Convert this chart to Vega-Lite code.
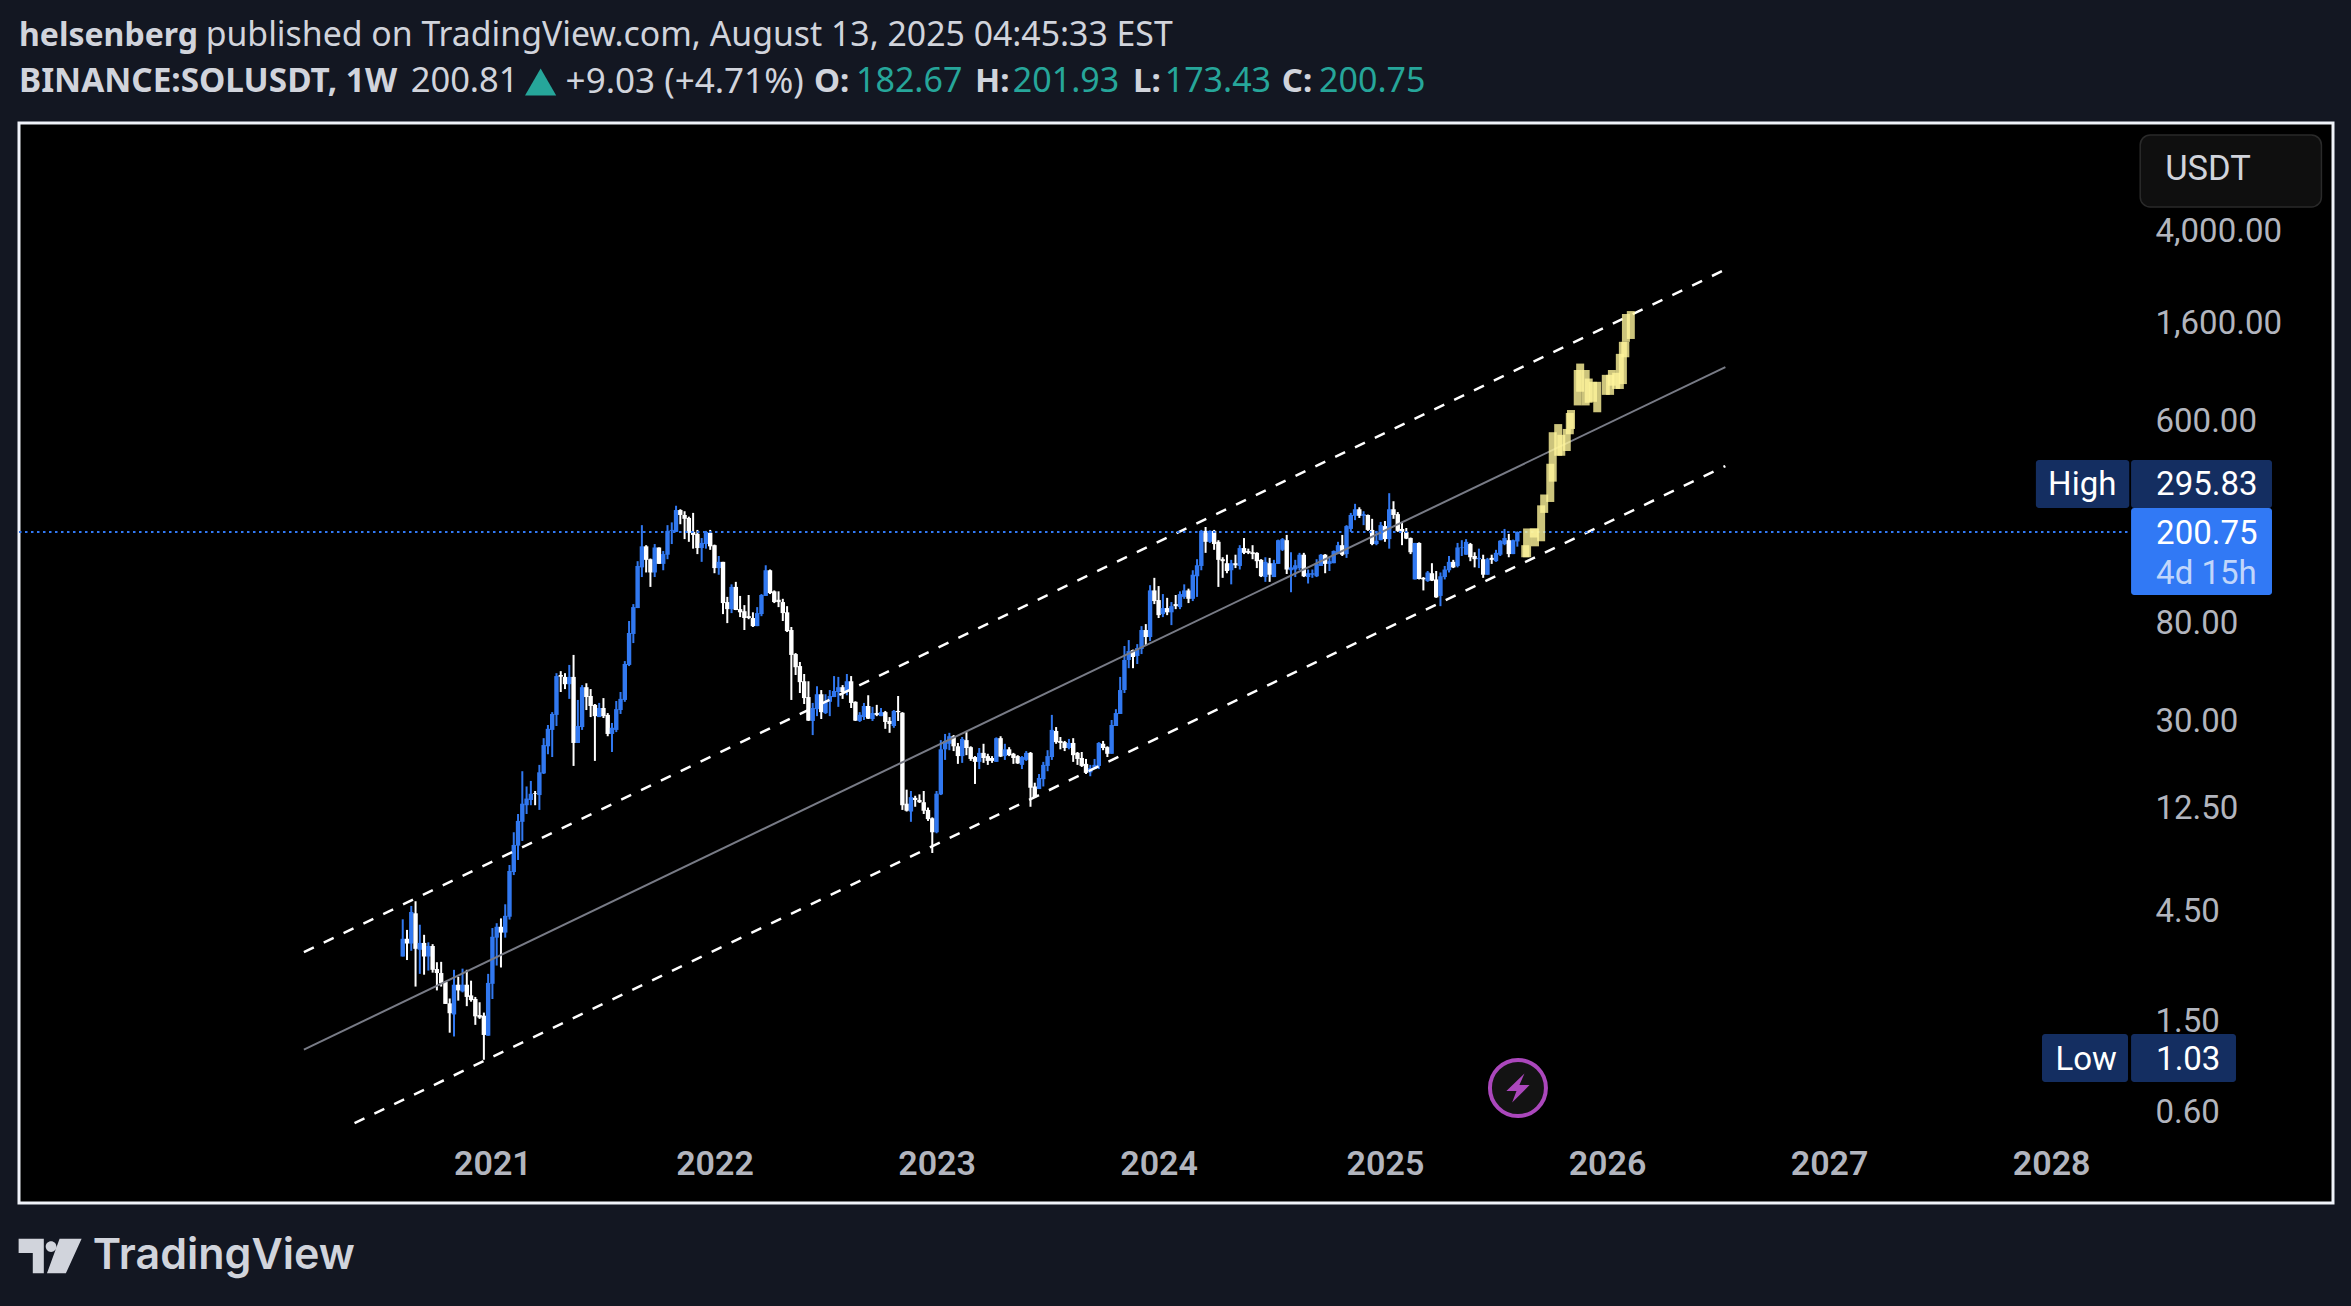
{"$schema":"https://vega.github.io/schema/vega-lite/v6.json","width":2314,"height":1080,"autosize":{"type":"none"},"padding":{"left":19,"top":123,"right":18,"bottom":103},"background":"#131722","view":{"fill":"#000000","stroke":"#f0f3fa","strokeWidth":3},"data":{"values":[{}]},
"datasets":{"candles":[
{"d":"2020-08-10","o":2.89,"h":4.19,"l":2.89,"c":3.45},{"d":"2020-08-17","o":3.45,"h":3.77,"l":2.79,"c":3.29},{"d":"2020-08-24","o":3.29,"h":4.79,"l":3.06,"c":4.51},{"d":"2020-08-31","o":4.45,"h":5.02,"l":2.14,"c":3.12},{"d":"2020-09-07","o":3.09,"h":3.97,"l":2.43,"c":3.31},{"d":"2020-09-14","o":3.31,"h":3.59,"l":2.41,"c":2.89},{"d":"2020-09-21","o":2.89,"h":3.33,"l":2.51,"c":3.21},{"d":"2020-09-28","o":3.21,"h":3.27,"l":2.46,"c":2.53},{"d":"2020-10-05","o":2.55,"h":2.73,"l":2.06,"c":2.45},{"d":"2020-10-12","o":2.45,"h":2.74,"l":2.14,"c":2.21},{"d":"2020-10-19","o":2.24,"h":2.25,"l":1.80,"c":1.80},{"d":"2020-10-26","o":1.81,"h":1.90,"l":1.35,"c":1.64},{"d":"2020-11-02","o":1.62,"h":2.53,"l":1.30,"c":2.18},{"d":"2020-11-09","o":2.18,"h":2.36,"l":1.86,"c":2.06},{"d":"2020-11-16","o":2.04,"h":2.56,"l":2.02,"c":2.18},{"d":"2020-11-23","o":2.18,"h":2.53,"l":1.76,"c":1.93},{"d":"2020-11-30","o":1.96,"h":2.27,"l":1.84,"c":1.87},{"d":"2020-12-07","o":1.89,"h":1.93,"l":1.46,"c":1.59},{"d":"2020-12-14","o":1.61,"h":1.83,"l":1.55,"c":1.57},{"d":"2020-12-21","o":1.60,"h":1.65,"l":1.03,"c":1.32},{"d":"2020-12-28","o":1.31,"h":2.43,"l":1.31,"c":2.22},
{"d":"2021-01-04","o":2.20,"h":3.84,"l":1.89,"c":3.52},{"d":"2021-01-11","o":3.49,"h":4.03,"l":2.64,"c":3.89},{"d":"2021-01-18","o":3.89,"h":4.23,"l":2.59,"c":3.67},{"d":"2021-01-25","o":3.67,"h":4.87,"l":3.49,"c":4.34},{"d":"2021-02-01","o":4.30,"h":7.21,"l":4.18,"c":6.79},{"d":"2021-02-08","o":6.72,"h":10.0,"l":6.52,"c":8.81},{"d":"2021-02-15","o":8.75,"h":12.0,"l":7.58,"c":11.2},{"d":"2021-02-22","o":11.1,"h":18.4,"l":9.17,"c":13.3},{"d":"2021-03-01","o":13.1,"h":15.8,"l":12.0,"c":14.0},{"d":"2021-03-08","o":13.8,"h":16.7,"l":13.1,"c":14.7},{"d":"2021-03-15","o":14.8,"h":15.1,"l":13.1,"c":14.7},{"d":"2021-03-22","o":14.5,"h":19.6,"l":12.5,"c":18.2},{"d":"2021-03-29","o":18.0,"h":25.6,"l":17.9,"c":23.9},{"d":"2021-04-05","o":23.6,"h":29.2,"l":21.8,"c":28.1},{"d":"2021-04-12","o":27.8,"h":33.2,"l":21.2,"c":32.6},{"d":"2021-04-19","o":32.3,"h":49.0,"l":28.9,"c":47.6},{"d":"2021-04-26","o":48.1,"h":50.0,"l":40.6,"c":47.3},{"d":"2021-05-03","o":47.2,"h":49.0,"l":41.8,"c":43.9},{"d":"2021-05-10","o":43.9,"h":53.2,"l":37.9,"c":47.2},{"d":"2021-05-17","o":47.2,"h":58.8,"l":19.4,"c":24.4},{"d":"2021-05-24","o":24.4,"h":37.5,"l":24.4,"c":28.9},{"d":"2021-05-31","o":28.6,"h":43.5,"l":27.8,"c":42.6},{"d":"2021-06-07","o":42.6,"h":44.3,"l":33.9,"c":38.6},{"d":"2021-06-14","o":39.0,"h":41.8,"l":31.6,"c":35.3},{"d":"2021-06-21","o":35.7,"h":36.0,"l":20.4,"c":31.9},{"d":"2021-06-28","o":31.6,"h":36.4,"l":31.6,"c":34.6},{"d":"2021-07-05","o":34.6,"h":38.2,"l":31.3,"c":31.9},{"d":"2021-07-12","o":32.3,"h":32.9,"l":26.1,"c":26.7},{"d":"2021-07-19","o":26.7,"h":29.8,"l":22.3,"c":28.4},{"d":"2021-07-26","o":27.8,"h":37.1,"l":27.2,"c":34.2},{"d":"2021-08-02","o":33.9,"h":40.6,"l":32.6,"c":37.9},{"d":"2021-08-09","o":37.5,"h":55.3,"l":36.8,"c":53.7},{"d":"2021-08-16","o":53.2,"h":82.5,"l":52.6,"c":73.2},{"d":"2021-08-23","o":72.5,"h":97.7,"l":66.2,"c":94.8},{"d":"2021-08-30","o":93.9,"h":150,"l":93.9,"c":143},{"d":"2021-09-06","o":141,"h":215,"l":128,"c":174},{"d":"2021-09-13","o":174,"h":176,"l":134,"c":152},{"d":"2021-09-20","o":153,"h":154,"l":116,"c":134},{"d":"2021-09-27","o":134,"h":178,"l":128,"c":172},{"d":"2021-10-04","o":172,"h":172,"l":146,"c":146},{"d":"2021-10-11","o":146,"h":166,"l":137,"c":161},{"d":"2021-10-18","o":160,"h":215,"l":153,"c":203},{"d":"2021-10-25","o":203,"h":221,"l":178,"c":205},{"d":"2021-11-01","o":201,"h":261,"l":201,"c":250},{"d":"2021-11-08","o":250,"h":252,"l":217,"c":238},{"d":"2021-11-15","o":238,"h":247,"l":187,"c":229},{"d":"2021-11-22","o":231,"h":234,"l":182,"c":199},{"d":"2021-11-29","o":201,"h":243,"l":170,"c":195},{"d":"2021-12-06","o":197,"h":205,"l":161,"c":171},{"d":"2021-12-13","o":171,"h":189,"l":149,"c":180},{"d":"2021-12-20","o":178,"h":203,"l":170,"c":201},{"d":"2021-12-27","o":199,"h":205,"l":168,"c":174},
{"d":"2022-01-03","o":176,"h":177,"l":133,"c":140},{"d":"2022-01-10","o":140,"h":158,"l":131,"c":149},{"d":"2022-01-17","o":149,"h":149,"l":88.4,"c":98.7},{"d":"2022-01-24","o":99.7,"h":105,"l":80.8,"c":92.9},{"d":"2022-01-31","o":92.9,"h":119,"l":89.3,"c":116},{"d":"2022-02-07","o":116,"h":122,"l":92,"c":92.1},{"d":"2022-02-14","o":92.9,"h":106,"l":85.8,"c":90},{"d":"2022-02-21","o":91,"h":96.7,"l":75.4,"c":85},{"d":"2022-02-28","o":86.6,"h":107,"l":84,"c":85},{"d":"2022-03-07","o":85,"h":90,"l":77.7,"c":78.4},{"d":"2022-03-14","o":78.4,"h":94.8,"l":78.4,"c":89.3},{"d":"2022-03-21","o":88.4,"h":108,"l":86.6,"c":107},{"d":"2022-03-28","o":106,"h":144,"l":106,"c":137},{"d":"2022-04-04","o":137,"h":138,"l":108,"c":109},{"d":"2022-04-11","o":111,"h":112,"l":98.7,"c":99.7},{"d":"2022-04-18","o":102,"h":111,"l":94.8,"c":99.7},{"d":"2022-04-25","o":99.7,"h":103,"l":82.5,"c":89.3},{"d":"2022-05-02","o":90,"h":95.7,"l":73.9,"c":74.6},{"d":"2022-05-09","o":75.4,"h":77.7,"l":37.5,"c":58.8},{"d":"2022-05-16","o":59.3,"h":59.9,"l":48.1,"c":52},{"d":"2022-05-23","o":52.6,"h":54.8,"l":40.2,"c":44.8},{"d":"2022-05-30","o":45.2,"h":48.6,"l":36,"c":38.2},{"d":"2022-06-06","o":38.6,"h":45.2,"l":30.4,"c":30.5},{"d":"2022-06-13","o":30.4,"h":36.4,"l":26.4,"c":34.6},{"d":"2022-06-20","o":34.2,"h":43,"l":31.9,"c":39.7},{"d":"2022-06-27","o":39.7,"h":41.4,"l":31,"c":33.2},{"d":"2022-07-04","o":32.9,"h":39.7,"l":32.6,"c":37.1},{"d":"2022-07-11","o":36.8,"h":41.4,"l":31.9,"c":39},{"d":"2022-07-18","o":38.6,"h":47.6,"l":38.6,"c":41},{"d":"2022-07-25","o":40.6,"h":47.2,"l":35,"c":42.6},{"d":"2022-08-01","o":42.6,"h":43.5,"l":37.9,"c":40.6},{"d":"2022-08-08","o":40.6,"h":48.6,"l":39.3,"c":45.2},{"d":"2022-08-15","o":45.2,"h":47.6,"l":34.6,"c":36.4},{"d":"2022-08-22","o":36.8,"h":37,"l":30.4,"c":30.5},{"d":"2022-08-29","o":30.4,"h":33.2,"l":30.1,"c":32.3},{"d":"2022-09-05","o":31.6,"h":36.4,"l":30.7,"c":35.3},{"d":"2022-09-12","o":35.3,"h":39.3,"l":31,"c":31.1},{"d":"2022-09-19","o":31,"h":35,"l":30.4,"c":32.9},{"d":"2022-09-26","o":32.9,"h":35.7,"l":31.9,"c":32.3},{"d":"2022-10-03","o":31.9,"h":34.6,"l":31.9,"c":33.2},{"d":"2022-10-10","o":33.2,"h":33.6,"l":28.1,"c":30.1},{"d":"2022-10-17","o":30.4,"h":31.6,"l":27,"c":29.5},{"d":"2022-10-24","o":28.9,"h":33.9,"l":28.4,"c":33.6},{"d":"2022-10-31","o":33.6,"h":39,"l":30.4,"c":33.2},{"d":"2022-11-07","o":33,"h":33.2,"l":12.5,"c":13.1},{"d":"2022-11-14","o":13.3,"h":15.3,"l":12.3,"c":12.4},{"d":"2022-11-21","o":12.3,"h":15.1,"l":11.1,"c":14.2},{"d":"2022-11-28","o":14.1,"h":14.4,"l":12.9,"c":13.8},{"d":"2022-12-05","o":13.8,"h":14.6,"l":13.4,"c":13.5},{"d":"2022-12-12","o":13.5,"h":15.1,"l":12,"c":12.4},{"d":"2022-12-19","o":12.5,"h":12.8,"l":11.2,"c":11.4},{"d":"2022-12-26","o":11.5,"h":11.6,"l":8.13,"c":10},
{"d":"2023-01-02","o":10,"h":15.1,"l":9.9,"c":14.7},{"d":"2023-01-09","o":14.6,"h":25.1,"l":14.5,"c":22.9},{"d":"2023-01-16","o":22.9,"h":26.7,"l":20.6,"c":24.9},{"d":"2023-01-23","o":24.2,"h":27,"l":22.7,"c":26.1},{"d":"2023-01-30","o":26.1,"h":26.4,"l":22.5,"c":23.6},{"d":"2023-02-06","o":23.6,"h":24.4,"l":19.8,"c":21.4},{"d":"2023-02-13","o":21.4,"h":25.9,"l":20,"c":25.4},{"d":"2023-02-20","o":25.1,"h":27.2,"l":21.6,"c":23.2},{"d":"2023-02-27","o":23.4,"h":23.6,"l":20.4,"c":20.8},{"d":"2023-03-06","o":21.2,"h":21.4,"l":16.2,"c":20.2},{"d":"2023-03-13","o":20.2,"h":23.2,"l":18.8,"c":22.1},{"d":"2023-03-20","o":22.1,"h":24.2,"l":20,"c":21},{"d":"2023-03-27","o":21.4,"h":21.9,"l":19.6,"c":20.4},{"d":"2023-04-03","o":21,"h":21.4,"l":20,"c":20.4},{"d":"2023-04-10","o":20.2,"h":25.8,"l":20.2,"c":25.6},{"d":"2023-04-17","o":25.6,"h":26.1,"l":21.2,"c":21.3},{"d":"2023-04-24","o":21.4,"h":24.2,"l":20.6,"c":22.9},{"d":"2023-05-01","o":22.9,"h":23.4,"l":21.4,"c":21.6},{"d":"2023-05-08","o":21.9,"h":22.1,"l":19.8,"c":21},{"d":"2023-05-15","o":21.4,"h":21.6,"l":19.8,"c":19.9},{"d":"2023-05-22","o":19.6,"h":21.4,"l":18.8,"c":21.2},{"d":"2023-05-29","o":20.6,"h":22.5,"l":20.4,"c":22.1},{"d":"2023-06-05","o":22.1,"h":22.3,"l":12.9,"c":15.6},{"d":"2023-06-12","o":15.8,"h":16.4,"l":14.1,"c":14.2},{"d":"2023-06-19","o":15.4,"h":17.9,"l":15.4,"c":17.2},{"d":"2023-06-26","o":17,"h":20.2,"l":15.8,"c":19.6},{"d":"2023-07-03","o":19.4,"h":22.7,"l":18.4,"c":21.4},{"d":"2023-07-10","o":21.2,"h":32.3,"l":20.6,"c":27.8},{"d":"2023-07-17","o":27.5,"h":28.6,"l":24.2,"c":24.6},{"d":"2023-07-24","o":24.9,"h":25.9,"l":22.9,"c":24.4},{"d":"2023-07-31","o":24.6,"h":24.9,"l":22.5,"c":23.2},{"d":"2023-08-07","o":23.2,"h":25.4,"l":22.9,"c":24.4},{"d":"2023-08-14","o":24.4,"h":25.6,"l":20.2,"c":21.6},{"d":"2023-08-21","o":22.1,"h":22.3,"l":19.6,"c":20.8},{"d":"2023-08-28","o":21,"h":22.3,"l":19.2,"c":19.4},{"d":"2023-09-04","o":19.8,"h":20.8,"l":17.9,"c":18.1},{"d":"2023-09-11","o":18.2,"h":19.6,"l":17.5,"c":19},{"d":"2023-09-18","o":18.8,"h":20.8,"l":18.8,"c":19.6},{"d":"2023-09-25","o":19.4,"h":24.6,"l":18.8,"c":24.4},{"d":"2023-10-02","o":24.2,"h":24.9,"l":22.7,"c":23.2},{"d":"2023-10-09","o":23.4,"h":23.6,"l":21.2,"c":21.9},{"d":"2023-10-16","o":21.9,"h":30.7,"l":21.9,"c":29.2},{"d":"2023-10-23","o":28.9,"h":34.2,"l":28.9,"c":32.9},{"d":"2023-10-30","o":32.6,"h":47.2,"l":32.6,"c":41.4},{"d":"2023-11-06","o":41.4,"h":64.3,"l":40.2,"c":55.9},{"d":"2023-11-13","o":55.9,"h":68.2,"l":51.5,"c":61.1},{"d":"2023-11-20","o":61.7,"h":62,"l":51.5,"c":57.6},{"d":"2023-11-27","o":58.2,"h":65.5,"l":53.7,"c":63},{"d":"2023-12-04","o":62.4,"h":78.4,"l":59.3,"c":75.4},{"d":"2023-12-11","o":75.4,"h":80,"l":64.3,"c":70.3},{"d":"2023-12-18","o":70.3,"h":118,"l":67.5,"c":112},{"d":"2023-12-25","o":112,"h":127,"l":97.7,"c":100.7},
{"d":"2024-01-01","o":101.7,"h":117,"l":85,"c":87.5},{"d":"2024-01-08","o":88.4,"h":108,"l":85.8,"c":93.9},{"d":"2024-01-15","o":93.9,"h":104,"l":87.5,"c":90},{"d":"2024-01-22","o":90,"h":99.7,"l":79.2,"c":95.7},{"d":"2024-01-29","o":97.7,"h":107,"l":92.9,"c":95.7},{"d":"2024-02-05","o":94.8,"h":111,"l":92.9,"c":108},{"d":"2024-02-12","o":105,"h":119,"l":103,"c":112},{"d":"2024-02-19","o":112,"h":114,"l":98.7,"c":103},{"d":"2024-02-26","o":103,"h":137,"l":100.7,"c":131},{"d":"2024-03-04","o":129,"h":153,"l":105,"c":144},{"d":"2024-03-11","o":143,"h":205,"l":137,"c":203},{"d":"2024-03-18","o":203,"h":211,"l":163,"c":182},{"d":"2024-03-25","o":182,"h":204,"l":180,"c":203},{"d":"2024-04-01","o":203,"h":205,"l":168,"c":178},{"d":"2024-04-08","o":182,"h":185,"l":116,"c":152},{"d":"2024-04-15","o":153,"h":156,"l":127,"c":150},{"d":"2024-04-22","o":147,"h":160,"l":133,"c":136},{"d":"2024-04-29","o":137,"h":152,"l":119,"c":147},{"d":"2024-05-06","o":147,"h":160,"l":140,"c":144},{"d":"2024-05-13","o":143,"h":176,"l":138,"c":171},{"d":"2024-05-20","o":171,"h":189,"l":161,"c":163},{"d":"2024-05-27","o":166,"h":170,"l":161,"c":163},{"d":"2024-06-03","o":164,"h":176,"l":153,"c":161},{"d":"2024-06-10","o":163,"h":164,"l":140,"c":150},{"d":"2024-06-17","o":152,"h":153,"l":128,"c":129},{"d":"2024-06-24","o":128,"h":156,"l":122,"c":149},{"d":"2024-07-01","o":147,"h":155,"l":122,"c":131},{"d":"2024-07-08","o":128,"h":152,"l":128,"c":147},{"d":"2024-07-15","o":146,"h":186,"l":146,"c":185},{"d":"2024-07-22","o":168,"h":189,"l":166,"c":187},{"d":"2024-07-29","o":185,"h":195,"l":132,"c":138},{"d":"2024-08-05","o":137,"h":164,"l":110,"c":141},{"d":"2024-08-12","o":138,"h":152,"l":128,"c":144},{"d":"2024-08-19","o":140,"h":163,"l":137,"c":160},{"d":"2024-08-26","o":160,"h":163,"l":128,"c":129},{"d":"2024-09-02","o":128,"h":138,"l":120,"c":133},{"d":"2024-09-09","o":131,"h":138,"l":127,"c":133},{"d":"2024-09-16","o":129,"h":153,"l":128,"c":146},{"d":"2024-09-23","o":143,"h":161,"l":143,"c":160},{"d":"2024-09-30","o":160,"h":161,"l":133,"c":146},{"d":"2024-10-07","o":146,"h":155,"l":136,"c":150},{"d":"2024-10-14","o":147,"h":167,"l":147,"c":166},{"d":"2024-10-21","o":161,"h":182,"l":161,"c":176},{"d":"2024-10-28","o":176,"h":195,"l":158,"c":160},{"d":"2024-11-04","o":161,"h":215,"l":155,"c":213},{"d":"2024-11-11","o":207,"h":243,"l":201,"c":238},{"d":"2024-11-18","o":236,"h":266,"l":226,"c":252},{"d":"2024-11-25","o":252,"h":257,"l":231,"c":236},{"d":"2024-12-02","o":236,"h":247,"l":215,"c":240},{"d":"2024-12-09","o":238,"h":239,"l":203,"c":205},{"d":"2024-12-16","o":205,"h":229,"l":176,"c":178},{"d":"2024-12-23","o":178,"h":203,"l":176,"c":184},{"d":"2024-12-30","o":185,"h":222,"l":185,"c":215},
{"d":"2025-01-06","o":213,"h":224,"l":182,"c":187},{"d":"2025-01-13","o":187,"h":295.83,"l":170,"c":252},{"d":"2025-01-20","o":252,"h":273,"l":229,"c":238},{"d":"2025-01-27","o":240,"h":245,"l":201,"c":203},{"d":"2025-02-03","o":207,"h":220,"l":176,"c":201},{"d":"2025-02-10","o":201,"h":209,"l":187,"c":188},{"d":"2025-02-17","o":189,"h":190,"l":161,"c":164},{"d":"2025-02-24","o":125,"h":180,"l":125,"c":180},{"d":"2025-03-03","o":180,"h":181,"l":125,"c":125.5},{"d":"2025-03-10","o":127,"h":128,"l":112,"c":125},{"d":"2025-03-17","o":123,"h":136,"l":122,"c":134},{"d":"2025-03-24","o":133,"h":147,"l":123,"c":123.5},{"d":"2025-03-31","o":125,"h":136,"l":104,"c":104.5},{"d":"2025-04-07","o":106,"h":134,"l":95.7,"c":129},{"d":"2025-04-14","o":128,"h":143,"l":125,"c":138},{"d":"2025-04-21","o":137,"h":158,"l":134,"c":149},{"d":"2025-04-28","o":149,"h":152,"l":140,"c":141},{"d":"2025-05-05","o":143,"h":180,"l":141,"c":172},{"d":"2025-05-12","o":171,"h":185,"l":158,"c":172},{"d":"2025-05-19","o":160,"h":187,"l":160,"c":182},{"d":"2025-05-26","o":178,"h":180,"l":150,"c":156},{"d":"2025-06-02","o":158,"h":164,"l":141,"c":153},{"d":"2025-06-09","o":153,"h":170,"l":140,"c":155},{"d":"2025-06-16","o":153,"h":160,"l":127,"c":131},{"d":"2025-06-23","o":131,"h":155,"l":131,"c":153},{"d":"2025-06-30","o":155,"h":160,"l":146,"c":152},{"d":"2025-07-07","o":150,"h":168,"l":149,"c":163},{"d":"2025-07-14","o":160,"h":185,"l":158,"c":184},{"d":"2025-07-21","o":178,"h":207,"l":176,"c":189},{"d":"2025-07-28","o":185,"h":197,"l":156,"c":161},{"d":"2025-08-04","o":161,"h":186,"l":161,"c":185},{"d":"2025-08-11","o":182.67,"h":201.93,"l":173.43,"c":200.75}],
"projection":[
{"d":"2025-08-24","hi":176,"lo":156},{"d":"2025-08-27","hi":208,"lo":156},{"d":"2025-09-09","hi":208,"lo":174},{"d":"2025-09-07","hi":208,"lo":190},{"d":"2025-09-19","hi":262,"lo":183},{"d":"2025-09-24","hi":292,"lo":243},{"d":"2025-10-04","hi":397,"lo":271},{"d":"2025-10-08","hi":544,"lo":332},{"d":"2025-10-17","hi":590,"lo":430},{"d":"2025-10-22","hi":530,"lo":430},{"d":"2025-10-31","hi":562,"lo":451},{"d":"2025-11-05","hi":659,"lo":533},{"d":"2025-11-07","hi":679,"lo":562},{"d":"2025-11-18","hi":1013,"lo":711},{"d":"2025-11-22","hi":1080,"lo":815},{"d":"2025-12-01","hi":1013,"lo":711},{"d":"2025-12-06","hi":930,"lo":730},{"d":"2025-12-13","hi":900,"lo":737},{"d":"2025-12-20","hi":900,"lo":664},{"d":"2026-01-03","hi":965,"lo":790},{"d":"2026-01-10","hi":965,"lo":790},{"d":"2026-01-13","hi":1013,"lo":866},{"d":"2026-01-20","hi":985,"lo":838},{"d":"2026-01-26","hi":1190,"lo":838},{"d":"2026-01-31","hi":1342,"lo":880},{"d":"2026-02-04","hi":1342,"lo":1150},{"d":"2026-02-05","hi":1772,"lo":1342},{"d":"2026-02-13","hi":1825,"lo":1381}],
"channel":[{"band":"upper","d":"2020-03-01","p":3.02},{"band":"upper","d":"2026-07-13","p":2722},{"band":"middle","d":"2020-03-01","p":1.14},{"band":"middle","d":"2026-07-18","p":1043},{"band":"lower","d":"2020-05-23","p":0.5475},{"band":"lower","d":"2026-07-18","p":388}]},
"layer":[
{"data":{"name":"candles"},"mark":{"type":"rule","strokeWidth":2},"encoding":{
"x":{"field":"d","type":"temporal","scale":{"domain":[{"year":2018,"month":11,"date":20},{"year":2029,"month":4,"date":9}],"nice":false,"padding":0},"axis":{"title":null,"grid":false,"domain":false,"ticks":false,"values":[{"year":2021,"month":1,"date":4},{"year":2022,"month":1,"date":3},{"year":2023,"month":1,"date":2},{"year":2024,"month":1,"date":1},{"year":2025,"month":1,"date":6},{"year":2026,"month":1,"date":5},{"year":2027,"month":1,"date":4},{"year":2028,"month":1,"date":3}],"format":"%Y","labelFont":"Roboto","labelFontSize":34,"labelFontWeight":600,"labelColor":"#b2b5be","labelBaseline":"middle","labelAlign":"center","labelPadding":0,"offset":-39,"labelFlush":false,"labelOverlap":false}},
"y":{"field":"h","type":"quantitative","scale":{"type":"log","domain":[0.2463,11945],"nice":false,"zero":false},"axis":{"title":null,"orient":"right","grid":false,"domain":false,"ticks":false,"values":[4000,1600,600,80,30,12.5,4.5,1.5,0.6],"format":",.2f","labelFont":"Roboto","labelFontSize":33,"labelColor":"#b2b5be","labelAlign":"left","labelBaseline":"middle","labelPadding":0,"offset":-178,"labelOverlap":false,"labelOffset":-1}},
"y2":{"field":"l"},
"color":{"condition":{"test":"datum.c>=datum.o","value":"#3178f0"},"value":"#ffffff"}}},
{"data":{"name":"candles"},"mark":{"type":"bar","size":4.4},"encoding":{"x":{"field":"d","type":"temporal"},"y":{"field":"o","type":"quantitative"},"y2":{"field":"c"},"color":{"condition":{"test":"datum.c>=datum.o","value":"#3178f0"},"value":"#ffffff"}}},
{"data":{"name":"channel"},"transform":[{"filter":"datum.band=='middle'"}],"mark":{"type":"line","color":"#787b86","strokeWidth":2},"encoding":{"x":{"field":"d","type":"temporal"},"y":{"field":"p","type":"quantitative"}}},
{"data":{"name":"channel"},"transform":[{"filter":"datum.band!='middle'"}],"mark":{"type":"line","color":"#ffffff","strokeWidth":2.5,"strokeDash":[11,11]},"encoding":{"x":{"field":"d","type":"temporal"},"y":{"field":"p","type":"quantitative"},"detail":{"field":"band"}}},
{"mark":{"type":"rule","color":"#3179f5","strokeWidth":2,"strokeDash":[2.5,3.5]},"encoding":{"x":{"datum":{"year":2018,"month":11,"date":20},"type":"temporal"},"x2":{"datum":{"year":2028,"month":5,"date":8}},"y":{"datum":200.75,"type":"quantitative"}}},
{"data":{"name":"projection"},"mark":{"type":"bar","size":8,"color":"#fff59b","opacity":0.8},"encoding":{"x":{"field":"d","type":"temporal"},"y":{"field":"hi","type":"quantitative"},"y2":{"field":"lo"}}},
{"mark":{"type":"rect","fill":"#0f0f0f","stroke":"#2a2a2a","strokeWidth":1.5,"cornerRadius":10},"encoding":{"x":{"datum":{"year":2028,"month":5,"date":28},"type":"temporal"},"x2":{"datum":{"year":2029,"month":3,"date":21}},"y":{"datum":10600,"type":"quantitative"},"y2":{"datum":5160}}},
{"mark":{"type":"rect","fill":"#142e61","cornerRadius":3},"encoding":{"x":{"datum":{"year":2027,"month":12,"date":9},"type":"temporal"},"x2":{"datum":{"year":2028,"month":5,"date":10}},"y":{"datum":412,"type":"quantitative"},"y2":{"datum":255}}},
{"mark":{"type":"rect","fill":"#142e61","cornerRadius":3},"encoding":{"x":{"datum":{"year":2028,"month":5,"date":13},"type":"temporal"},"x2":{"datum":{"year":2028,"month":12,"date":30}},"y":{"datum":412,"type":"quantitative"},"y2":{"datum":255}}},
{"mark":{"type":"rect","fill":"#3179f5","cornerRadius":3},"encoding":{"x":{"datum":{"year":2028,"month":5,"date":13},"type":"temporal"},"x2":{"datum":{"year":2028,"month":12,"date":30}},"y":{"datum":255,"type":"quantitative"},"y2":{"datum":107}}},
{"mark":{"type":"rect","fill":"#142e61","cornerRadius":3},"encoding":{"x":{"datum":{"year":2027,"month":12,"date":19},"type":"temporal"},"x2":{"datum":{"year":2028,"month":5,"date":8}},"y":{"datum":1.333,"type":"quantitative"},"y2":{"datum":0.8244}}},
{"mark":{"type":"rect","fill":"#142e61","cornerRadius":3},"encoding":{"x":{"datum":{"year":2028,"month":5,"date":13},"type":"temporal"},"x2":{"datum":{"year":2028,"month":11,"date":1}},"y":{"datum":1.333,"type":"quantitative"},"y2":{"datum":0.8244}}},
{"mark":{"type":"text","text":"USDT","font":"Roboto","fontSize":34.5,"color":"#d1d4dc","align":"left","baseline":"middle"},"encoding":{"x":{"datum":{"year":2028,"month":7,"date":8},"type":"temporal"},"y":{"datum":7467,"type":"quantitative"}}},
{"mark":{"type":"text","text":"High","font":"Roboto","fontSize":33,"color":"#ffffff","align":"left","baseline":"middle"},"encoding":{"x":{"datum":{"year":2027,"month":12,"date":29},"type":"temporal"},"y":{"datum":322,"type":"quantitative"}}},
{"mark":{"type":"text","text":"295.83","font":"Roboto","fontSize":33,"color":"#ffffff","align":"left","baseline":"middle"},"encoding":{"x":{"datum":{"year":2028,"month":6,"date":23},"type":"temporal"},"y":{"datum":322,"type":"quantitative"}}},
{"mark":{"type":"text","text":"200.75","font":"Roboto","fontSize":33,"color":"#ffffff","align":"left","baseline":"middle"},"encoding":{"x":{"datum":{"year":2028,"month":6,"date":23},"type":"temporal"},"y":{"datum":196,"type":"quantitative"}}},
{"mark":{"type":"text","text":"4d 15h","font":"Roboto","fontSize":33,"color":"#c1d6fb","align":"left","baseline":"middle"},"encoding":{"x":{"datum":{"year":2028,"month":6,"date":23},"type":"temporal"},"y":{"datum":132.6,"type":"quantitative"}}},
{"mark":{"type":"text","text":"Low","font":"Roboto","fontSize":33,"color":"#ffffff","align":"left","baseline":"middle"},"encoding":{"x":{"datum":{"year":2028,"month":1,"date":10},"type":"temporal"},"y":{"datum":1.03,"type":"quantitative"}}},
{"mark":{"type":"text","text":"1.03","font":"Roboto","fontSize":33,"color":"#ffffff","align":"left","baseline":"middle"},"encoding":{"x":{"datum":{"year":2028,"month":6,"date":23},"type":"temporal"},"y":{"datum":1.03,"type":"quantitative"}}},
{"mark":{"type":"point","shape":"circle","size":3136,"filled":true,"fill":"#131313","stroke":"#ab47bc","strokeWidth":4,"opacity":1},"encoding":{"x":{"datum":{"year":2025,"month":8,"date":12},"type":"temporal"},"y":{"datum":0.777,"type":"quantitative"}}},
{"mark":{"type":"point","shape":"M0.45,-1 L-0.8,0.2 L-0.1,0.2 L-0.4,1 L0.8,-0.2 L0.1,-0.2 Z","size":841,"filled":true,"fill":"#ab47bc","opacity":1},"encoding":{"x":{"datum":{"year":2025,"month":8,"date":12},"type":"temporal"},"y":{"datum":0.777,"type":"quantitative"}}},
{"mark":{"type":"text","text":"helsenberg","font":"Noto Sans","fontWeight":"bold","fontSize":32,"color":"#d1d4dc","align":"left","baseline":"middle"},"encoding":{"x":{"datum":{"year":2018,"month":11,"date":20},"type":"temporal"},"y":{"datum":28487,"type":"quantitative"}}},
{"mark":{"type":"text","text":"published on TradingView.com, August 13, 2025 04:45:33 EST","font":"Noto Sans","fontSize":33.8,"color":"#d1d4dc","align":"left","baseline":"middle"},"encoding":{"x":{"datum":{"year":2019,"month":9,"date":22},"type":"temporal"},"y":{"datum":28487,"type":"quantitative"}}},
{"mark":{"type":"text","text":"BINANCE:SOLUSDT, 1W","font":"Noto Sans","fontWeight":"bold","fontSize":33.3,"color":"#d1d4dc","align":"left","baseline":"middle"},"encoding":{"x":{"datum":{"year":2018,"month":11,"date":20},"type":"temporal"},"y":{"datum":17990,"type":"quantitative"}}},
{"mark":{"type":"text","text":"200.81","font":"Noto Sans","fontSize":34.5,"color":"#d1d4dc","align":"left","baseline":"middle"},"encoding":{"x":{"datum":{"year":2020,"month":8,"date":23},"type":"temporal"},"y":{"datum":17990,"type":"quantitative"}}},
{"mark":{"type":"point","shape":"triangle-up","size":973,"filled":true,"fill":"#26a69a","opacity":1},"encoding":{"x":{"datum":{"year":2021,"month":3,"date":24},"type":"temporal"},"y":{"datum":17990,"type":"quantitative"}}},
{"mark":{"type":"text","text":"+9.03 (+4.71%)","font":"Noto Sans","fontSize":35,"color":"#d1d4dc","align":"left","baseline":"middle"},"encoding":{"x":{"datum":{"year":2021,"month":5,"date":4},"type":"temporal"},"y":{"datum":17990,"type":"quantitative"}}},
{"mark":{"type":"text","text":"O:","font":"Noto Sans","fontWeight":"bold","fontSize":33,"color":"#d1d4dc","align":"left","baseline":"middle"},"encoding":{"x":{"datum":{"year":2022,"month":6,"date":15},"type":"temporal"},"y":{"datum":17990,"type":"quantitative"}}},
{"mark":{"type":"text","text":"182.67","font":"Noto Sans","fontSize":34,"color":"#26a69a","align":"left","baseline":"middle"},"encoding":{"x":{"datum":{"year":2022,"month":8,"date":23},"type":"temporal"},"y":{"datum":17990,"type":"quantitative"}}},
{"mark":{"type":"text","text":"H:","font":"Noto Sans","fontWeight":"bold","fontSize":33,"color":"#d1d4dc","align":"left","baseline":"middle"},"encoding":{"x":{"datum":{"year":2023,"month":3,"date":6},"type":"temporal"},"y":{"datum":17990,"type":"quantitative"}}},
{"mark":{"type":"text","text":"201.93","font":"Noto Sans","fontSize":34,"color":"#26a69a","align":"left","baseline":"middle"},"encoding":{"x":{"datum":{"year":2023,"month":5,"date":7},"type":"temporal"},"y":{"datum":17990,"type":"quantitative"}}},
{"mark":{"type":"text","text":"L:","font":"Noto Sans","fontWeight":"bold","fontSize":33,"color":"#d1d4dc","align":"left","baseline":"middle"},"encoding":{"x":{"datum":{"year":2023,"month":11,"date":20},"type":"temporal"},"y":{"datum":17990,"type":"quantitative"}}},
{"mark":{"type":"text","text":"173.43","font":"Noto Sans","fontSize":34,"color":"#26a69a","align":"left","baseline":"middle"},"encoding":{"x":{"datum":{"year":2024,"month":1,"date":11},"type":"temporal"},"y":{"datum":17990,"type":"quantitative"}}},
{"mark":{"type":"text","text":"C:","font":"Noto Sans","fontWeight":"bold","fontSize":33,"color":"#d1d4dc","align":"left","baseline":"middle"},"encoding":{"x":{"datum":{"year":2024,"month":7,"date":21},"type":"temporal"},"y":{"datum":17990,"type":"quantitative"}}},
{"mark":{"type":"text","text":"200.75","font":"Noto Sans","fontSize":34,"color":"#26a69a","align":"left","baseline":"middle"},"encoding":{"x":{"datum":{"year":2024,"month":9,"date":20},"type":"temporal"},"y":{"datum":17990,"type":"quantitative"}}},
{"mark":{"type":"point","shape":"M-1,-0.55 H-0.2 V0.55 H-0.55 V-0.1 H-1 Z M0.3,-0.55 H1 L0.5,0.55 H-0.1 Z M0.2,-0.3 A0.17,0.17 0 1 1 -0.14,-0.3 A0.17,0.17 0 1 1 0.2,-0.3 Z","size":3969,"filled":true,"fill":"#d1d4dc","opacity":1},"encoding":{"x":{"datum":{"year":2019,"month":1,"date":10},"type":"temporal"},"y":{"datum":0.145,"type":"quantitative"}}},
{"mark":{"type":"text","text":"TradingView","font":"Inter","fontWeight":600,"fontSize":43,"color":"#d1d4dc","align":"left","baseline":"middle"},"encoding":{"x":{"datum":{"year":2019,"month":3,"date":21},"type":"temporal"},"y":{"datum":0.145,"type":"quantitative"}}}
]}
